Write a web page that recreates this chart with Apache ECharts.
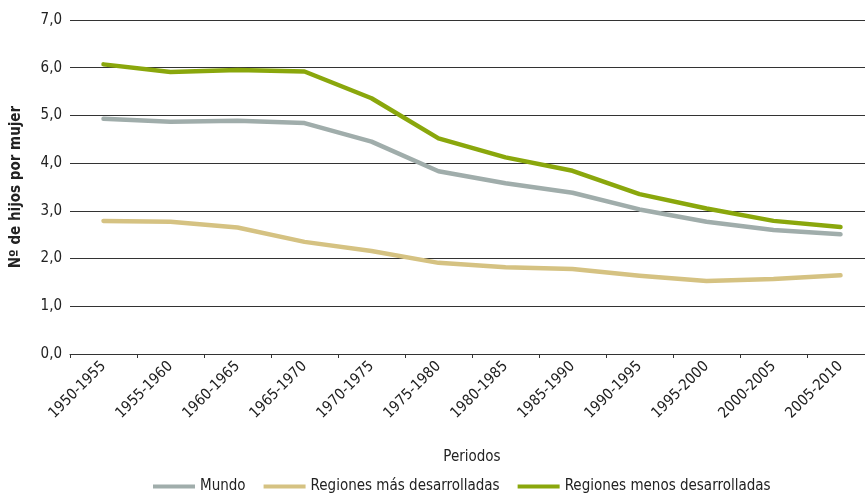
<!DOCTYPE html>
<html>
<head>
<meta charset="utf-8">
<script src="https://cdn.jsdelivr.net/npm/echarts@6/dist/echarts.min.js"></script>
<style>
  html, body { margin: 0; padding: 0; background: #fff; }
  #chart { width: 865px; height: 494px; }
</style>
</head>
<body>
<div id="chart"></div>
<script>
var chart = echarts.init(document.getElementById('chart'));

// periodos (eje x)
var periodos = ['1950-1955', '1955-1960', '1960-1965', '1965-1970', '1970-1975', '1975-1980',
  '1980-1985', '1985-1990', '1990-1995', '1995-2000', '2000-2005', '2005-2010'];

// nº de hijos por mujer
var mundo = [4.93, 4.87, 4.89, 4.84, 4.45, 3.83, 3.58, 3.38, 3.03, 2.77, 2.60, 2.51];
var masDesarrolladas = [2.79, 2.77, 2.65, 2.35, 2.16, 1.91, 1.82, 1.78, 1.64, 1.53, 1.57, 1.65];
var menosDesarrolladas = [6.07, 5.91, 5.95, 5.92, 5.36, 4.52, 4.12, 3.84, 3.35, 3.05, 2.79, 2.66];

var fuente = '"DejaVu Sans Condensed", "Liberation Sans", sans-serif';

function linea(nombre, datos, color) {
  return {
    name: nombre,
    type: 'line',
    data: datos,
    symbol: 'none',
    lineStyle: { color: color, width: 4.5, cap: 'round', join: 'round' },
    itemStyle: { color: color }
  };
}

var option = {
  animation: false,
  grid: { left: 70, width: 804, top: 20, height: 334, outerBoundsMode: 'none', containLabel: false },
  legend: {
    bottom: -5,
    left: 148,
    itemWidth: 42,
    itemHeight: 4,
    itemGap: 18,
    icon: 'rect',
    textStyle: { fontFamily: fuente, fontSize: 15, color: '#222' },
    data: ['Mundo', 'Regiones más desarrolladas', 'Regiones menos desarrolladas']
  },
  xAxis: {
    type: 'category',
    data: periodos,
    boundaryGap: true,
    name: 'Periodos',
    nameLocation: 'middle',
    nameGap: 96,
    nameTextStyle: { fontFamily: fuente, fontSize: 15, color: '#222' },
    axisLine: { lineStyle: { color: '#333', width: 1 } },
    axisTick: { show: true, length: 4, lineStyle: { color: '#333' } },
    axisLabel: { rotate: 45, fontFamily: fuente, fontSize: 15, color: '#222', margin: 10 }
  },
  yAxis: {
    type: 'value',
    min: 0,
    max: 7,
    interval: 1,
    name: 'Nº de hijos por mujer',
    nameLocation: 'middle',
    nameGap: 46,
    nameTextStyle: { fontFamily: fuente, fontSize: 15, color: '#222', fontWeight: 'bold' },
    axisLine: { show: false },
    axisTick: { show: false },
    splitLine: { lineStyle: { color: '#333', width: 1 } },
    axisLabel: {
      fontFamily: fuente, fontSize: 15, color: '#222', margin: 8,
      formatter: function (v) { return v.toFixed(1).replace('.', ','); }
    }
  },
  series: [
    linea('Mundo', mundo, '#a0adab'),
    linea('Regiones más desarrolladas', masDesarrolladas, '#d5c282'),
    linea('Regiones menos desarrolladas', menosDesarrolladas, '#8aa70c')
  ]
};

chart.setOption(option);
</script>
</body>
</html>
